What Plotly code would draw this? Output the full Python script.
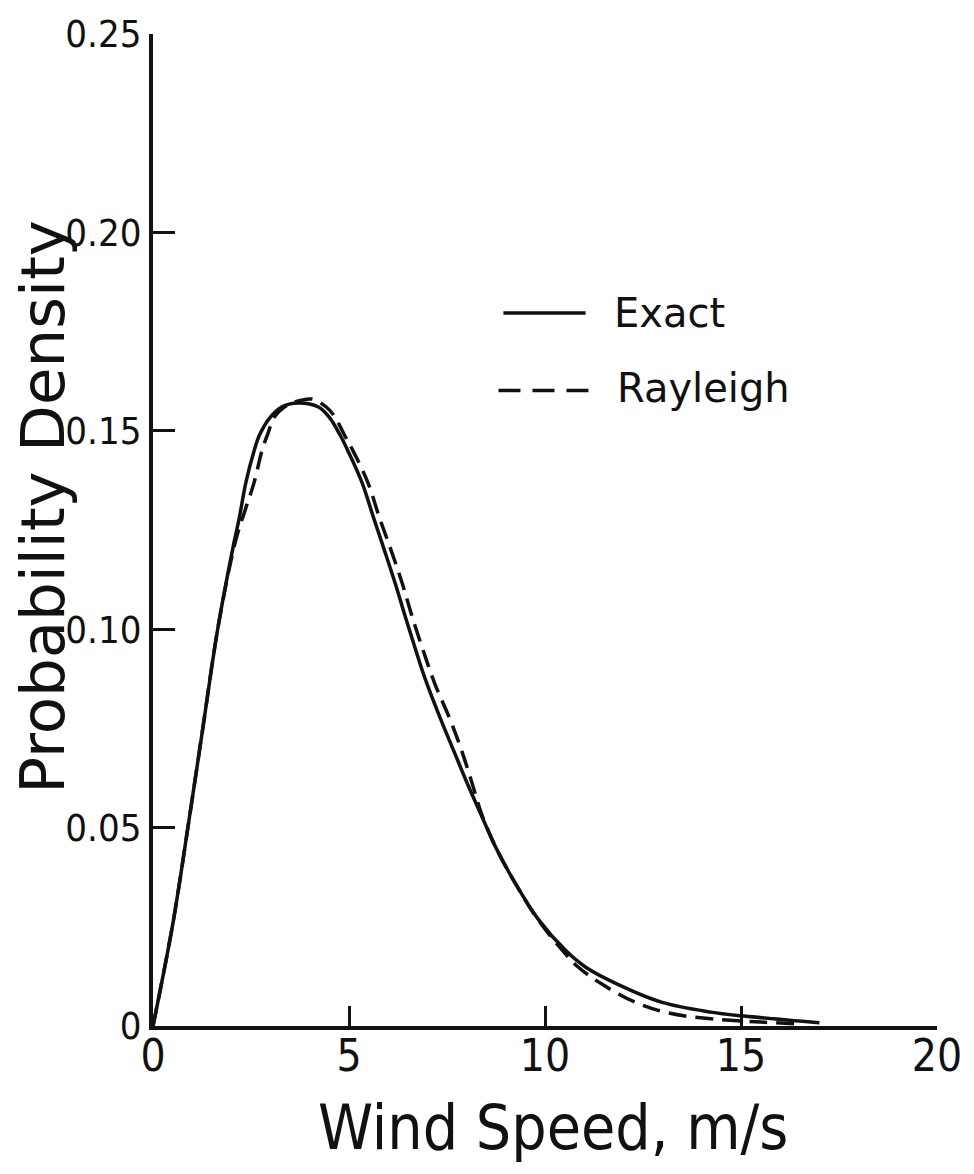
import plotly.graph_objects as go

# ---- data ----
exact_x = [0, 0.51, 0.89, 1.27, 1.65, 2.07, 2.20, 2.37, 2.58, 2.72, 3.00, 3.28, 3.70,
           4.22, 4.49, 4.77, 4.97, 5.33, 5.63, 5.90, 6.19, 6.45, 6.70, 6.95, 7.32, 7.67,
           8.01, 8.38, 8.76, 9.27, 9.82, 10.53, 11.04, 11.79, 12.97, 14.23, 15.08, 17.0]
exact_y = [0, 0.026, 0.050, 0.075, 0.100, 0.122, 0.128, 0.137, 0.145, 0.149, 0.1535, 0.156, 0.157,
           0.156, 0.1535, 0.149, 0.145, 0.137, 0.128, 0.120, 0.1112, 0.1027, 0.0948, 0.0873, 0.0778, 0.0694,
           0.0613, 0.0530, 0.0447, 0.0355, 0.0270, 0.019, 0.0148, 0.0108, 0.006, 0.0035, 0.0025, 0.0008]

rayleigh_x = [0, 0.51, 0.89, 1.27, 1.65, 2.10, 2.35, 2.58, 2.78, 2.92, 3.10, 3.35, 3.70, 4.05,
              4.42, 4.64, 4.88, 5.10, 5.48, 5.78, 6.07, 6.36, 6.60, 6.88, 7.18, 7.58, 7.88,
              8.13, 8.38, 8.76, 9.27, 9.82, 10.45, 10.83, 11.46, 12.30, 13.14, 14.23, 15.5, 16.5]
rayleigh_y = [0, 0.026, 0.050, 0.075, 0.100, 0.122, 0.130, 0.137, 0.145, 0.149, 0.1535, 0.156, 0.1575, 0.158,
              0.156, 0.1535, 0.149, 0.145, 0.137, 0.128, 0.120, 0.1115, 0.1035, 0.0950, 0.0865, 0.0772, 0.0692,
              0.0615, 0.0535, 0.0447, 0.0355, 0.0268, 0.0190, 0.0150, 0.0105, 0.0060, 0.0033, 0.0018, 0.0010, 0.0005]

x_ticks = [0, 5, 10, 15, 20]
x_tick_labels = ["0", "5", "10", "15", "20"]
y_ticks = [0, 0.05, 0.10, 0.15, 0.20, 0.25]
y_tick_labels = ["0", "0.05", "0.10", "0.15", "0.20", "0.25"]

FONT = "DejaVu Sans Condensed, DejaVu Sans, sans-serif"
FONT_WIDE = "DejaVu Sans, sans-serif"
INK = "#111111"

fig = go.Figure()
fig.add_trace(go.Scatter(x=exact_x, y=exact_y, mode="lines", name="Exact",
                         line=dict(color=INK, width=3.5, shape="spline", smoothing=1.0)))
fig.add_trace(go.Scatter(x=rayleigh_x, y=rayleigh_y, mode="lines", name="Rayleigh",
                         line=dict(color=INK, width=3.5, dash="18px,9px", shape="spline", smoothing=1.0)))

W, H = 974, 1174
L, R, T, B = 153, 29, 27, 148
pw, ph = W - L - R, H - T - B

def px(xp):
    return (xp - L) / pw

def py(yp):
    return (H - B - yp) / ph

fig.update_layout(
    width=W, height=H,
    margin=dict(l=L, r=R, t=T, b=B),
    paper_bgcolor="white", plot_bgcolor="white",
    showlegend=False,
    font=dict(family=FONT, color=INK),
    xaxis=dict(range=[0, 20], tickvals=x_ticks, ticktext=x_tick_labels,
               ticks="inside", ticklen=20, tickwidth=3, tickcolor=INK,
               showline=True, linewidth=4, linecolor=INK,
               showgrid=False, zeroline=False, ticklabelstandoff=-12,
               tickfont=dict(size=44, family=FONT, color=INK)),
    yaxis=dict(range=[0, 0.25], tickvals=y_ticks, ticktext=y_tick_labels,
               ticks="inside", ticklen=22, tickwidth=3, tickcolor=INK,
               showline=True, linewidth=4, linecolor=INK,
               showgrid=False, zeroline=False,
               tickfont=dict(size=38, family=FONT, color=INK)),
)

# axis titles
fig.add_annotation(text="Probability Density", textangle=-90, showarrow=False,
                   xref="paper", yref="paper", x=px(42), y=py(503),
                   xanchor="center", yanchor="middle",
                   font=dict(size=61, family=FONT_WIDE, color=INK))
fig.add_annotation(text="Wind Speed, m/s", showarrow=False,
                   xref="paper", yref="paper", x=px(557), y=py(1128),
                   xanchor="center", yanchor="middle",
                   font=dict(size=62, family=FONT, color=INK))

# hand-drawn key
fig.add_shape(type="line", xref="paper", yref="paper",
              x0=px(507), x1=px(590), y0=py(308), y1=py(308),
              line=dict(color=INK, width=3.5))
fig.add_shape(type="line", xref="paper", yref="paper",
              x0=px(502), x1=px(595), y0=py(386), y1=py(386),
              line=dict(color=INK, width=3.5, dash="22px,12px"))
fig.add_annotation(text="Exact", showarrow=False, xref="paper", yref="paper",
                   x=px(617), y=py(308), xanchor="left", yanchor="middle",
                   font=dict(size=40, family=FONT_WIDE, color=INK))
fig.add_annotation(text="Rayleigh", showarrow=False, xref="paper", yref="paper",
                   x=px(620), y=py(384), xanchor="left", yanchor="middle",
                   font=dict(size=40, family=FONT_WIDE, color=INK))

fig.write_html("out.html")
